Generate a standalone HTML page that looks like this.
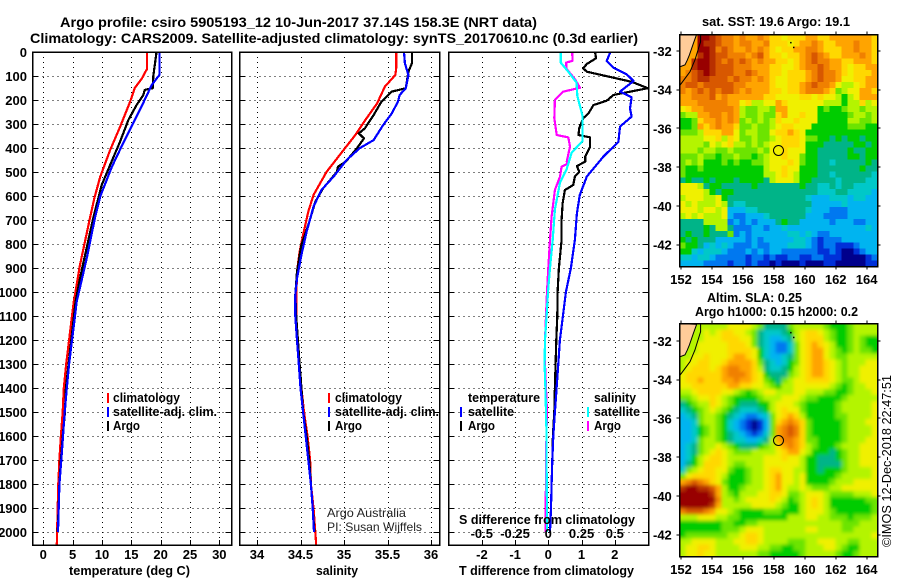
<!DOCTYPE html>
<html lang="en">
<head>
<meta charset="utf-8">
<title>Argo profile csiro 5905193_12</title>
<style>
html,body{margin:0;padding:0;background:#fff;}
svg{display:block;}
text{font-family:"Liberation Sans",sans-serif;font-weight:bold;font-size:13px;fill:#000;}
.thin{font-weight:normal;font-size:12px;fill:#222;}
.frame{fill:none;stroke:#000;stroke-width:1.5;shape-rendering:crispEdges;}
</style>
</head>
<body>
<svg id="chart" xmlns="http://www.w3.org/2000/svg" width="900" height="580" viewBox="0 0 900 580">
<rect x="0" y="0" width="900" height="580" fill="#fff"/>
<defs>
<clipPath id="p3clip"><rect x="448" y="52" width="200" height="493"/></clipPath>
<filter id="smooth" x="-5%" y="-5%" width="110%" height="110%"><feGaussianBlur stdDeviation="1.8"/></filter>
</defs>
<text x="60" y="27" font-size="14" style="font-size:14px" textLength="477">Argo profile: csiro 5905193_12 10-Jun-2017 37.14S 158.3E (NRT data)</text>
<text x="30" y="43" style="font-size:14px" textLength="608">Climatology: CARS2009. Satellite-adjusted climatology: synTS_20170610.nc (0.3d earlier)</text>
<g id="layer-panels"></g>
<g id="layer-maps"></g>

<text x="69" y="575" textLength="121">temperature (deg C)</text>
<text x="316" y="575" textLength="42">salinity</text>
<text x="459" y="575" textLength="175">T difference from climatology</text>
<text x="459" y="524" textLength="176">S difference from climatology</text>

<rect x="107" y="393" width="2" height="10" fill="#f00"/>
<text x="113" y="402" textLength="67">climatology</text>
<rect x="107" y="407" width="2" height="10" fill="#00f"/>
<text x="113" y="416" textLength="104">satellite-adj. clim.</text>
<rect x="107" y="421" width="2" height="10" fill="#000"/>
<text x="113" y="430" textLength="27">Argo</text>

<rect x="328" y="393" width="2" height="10" fill="#f00"/>
<text x="335" y="402" textLength="67">climatology</text>
<rect x="328" y="407" width="2" height="10" fill="#00f"/>
<text x="335" y="416" textLength="104">satellite-adj. clim.</text>
<rect x="328" y="421" width="2" height="10" fill="#000"/>
<text x="335" y="430" textLength="27">Argo</text>

<text class="thin" x="327" y="517" textLength="79">Argo Australia</text>
<text class="thin" x="327" y="531" textLength="95">PI: Susan Wijffels</text>

<text x="468" y="402" textLength="72">temperature</text>
<rect x="460" y="407" width="2" height="10" fill="#00f"/>
<text x="468" y="416" textLength="46">satellite</text>
<rect x="460" y="421" width="2" height="10" fill="#000"/>
<text x="468" y="430" textLength="27">Argo</text>
<text x="594" y="402" textLength="42">salinity</text>
<rect x="587" y="407" width="2" height="10" fill="#0ff"/>
<text x="594" y="416" textLength="46">satellite</text>
<rect x="587" y="421" width="2" height="10" fill="#f0f"/>
<text x="594" y="430" textLength="27">Argo</text>

<text x="702" y="26" textLength="148">sat. SST: 19.6 Argo: 19.1</text>
<text x="707" y="302" textLength="95">Altim. SLA: 0.25</text>
<text x="695" y="316" textLength="163">Argo h1000: 0.15 h2000: 0.2</text>
<text class="thin" transform="translate(891 547) rotate(-90)" x="0" y="0" textLength="172" style="font-size:12.5px;fill:#000">©IMOS 12-Dec-2018 22:47:51</text>
</svg>
<script>
// ---------- profile data (depth in m, temperature in deg C, salinity in psu) ----------
var depthTicks = [0,100,200,300,400,500,600,700,800,900,1000,1100,1200,1300,1400,1500,1600,1700,1800,1900,2000];
var tempTicks = [0,5,10,15,20,25,30];
var salTicks = [34,34.5,35,35.5,36];
var salTickLabels = ['34','34.5','35','35.5','36'];
var diffTTicks = [-2,-1,0,1,2];
var diffSTicks = [-0.5,-0.25,0,0.25,0.5];
var diffSTickLabels = ['-0.5','-0.25','0','0.25','0.5'];

var tempClimDepth = [0,70,110,150,207,311,408,520,610,699,887,1040,1100,1200,1300,1400,1500,1600,1700,1800,1900,2000,2054];
var tempClim = [17.7,17.7,16.8,15.6,14.8,13.1,11.4,9.7,8.7,7.9,6.25,5.2,4.9,4.4,3.9,3.5,3.3,3.0,2.75,2.55,2.45,2.35,2.3];
var tempSatDepth = [0,95,137,214,298,380,478,602,692,860,1040,1100,1200,1300,1400,1500,1600,1700,1800,1900,2000];
var tempSat = [19.8,19.8,18.5,17.0,15.3,13.6,11.7,9.7,8.8,7.4,5.7,5.4,4.9,4.4,4.0,3.65,3.35,3.07,2.75,2.62,2.5];
var tempArgoDepth = [0,20,100,151,158,179,221,283,374,470,554,692,942,1040,1400,1500,1600,1700,1800,1900,2000];
var tempArgo = [19.3,19.2,18.75,18.65,17.3,17.05,15.9,14.5,13.07,11.4,9.95,8.5,6.25,5.5,3.85,3.7,3.3,3.0,2.75,2.6,2.45];

var salClimDepth = [0,68,96,144,214,276,346,429,499,596,665,762,832,915,1040,1100,1200,1300,1400,1500,1600,1700,1800,1900,2000,2054];
var salClim = [35.6,35.6,35.59,35.47,35.38,35.26,35.13,34.95,34.8,34.65,34.59,34.53,34.49,34.46,34.45,34.45,34.47,34.49,34.51,34.54,34.58,34.61,34.62,34.65,34.67,34.68];
var salSatDepth = [0,47,96,151,179,207,256,304,367,401,450,519,575,644,749,846,943,1013,1100,1200,1300,1400,1500,1600,1700,1800,1900,2000];
var salSat = [35.69,35.7,35.74,35.71,35.64,35.62,35.55,35.45,35.34,35.18,35.03,34.88,34.74,34.65,34.57,34.51,34.46,34.44,34.44,34.46,34.48,34.5,34.53,34.56,34.59,34.62,34.64,34.655];
var salArgoDepth = [0,47,82,151,165,207,263,318,339,360,401,457,478,499,568,624,721,804,915,1013,1100,1200,1300,1400,1500,1600,1700,1800,1900,2000];
var salArgo = [35.78,35.78,35.74,35.71,35.55,35.43,35.34,35.24,35.17,35.23,35.15,35.02,34.93,34.92,34.76,34.67,34.59,34.51,34.46,34.44,34.45,34.47,34.49,34.51,34.53,34.57,34.6,34.62,34.64,34.66];

var diffTArgoDepth = [3,26,50,68,82,124,151,172,179,203,221,256,276,318,346,356,394,436,457,475,499,519,554,575,631,700,783,900,1000,1100,1200,1300,1400,1500,1600,1700,1800,1900,2000];
var diffTArgo = [1.41,1.44,1.16,1.05,1.16,2.51,3.0,2.21,1.96,1.76,1.36,1.21,1.05,0.93,0.91,1.26,1.26,1.11,1.11,0.86,0.93,0.8,0.75,0.5,0.43,0.4,0.4,0.32,0.28,0.27,0.24,0.22,0.2,0.18,0.14,0.12,0.1,0.08,0.05];
var diffTSatDepth = [3,37,65,93,121,165,189,235,269,311,374,436,519,596,672,783,900,1000,1100,1200,1300,1400,1500,1600,1700,1800,1900,2000];
var diffTSat = [1.86,1.76,1.96,2.36,2.57,2.16,2.51,2.46,2.51,2.16,2.11,1.66,1.16,0.95,0.86,0.8,0.68,0.53,0.44,0.35,0.3,0.25,0.2,0.15,0.12,0.1,0.08,0.05];
var diffSArgoDepth = [3,37,44,71,113,149,165,200,276,346,356,394,457,464,478,519,575,686,783,900,1000,1100,1200,1300,1400,1500,1600,1800,1900,2000];
var diffSArgo = [0.18,0.183,0.133,0.138,0.2,0.238,0.113,0.05,0.045,0.063,0.15,0.163,0.138,0.15,0.1,0.088,0.05,0.025,0.013,0,-0.01,-0.017,-0.025,-0.025,-0.017,-0.01,-0.014,-0.017,-0.021,-0.021];
var diffSSatDepth = [3,44,82,128,183,267,371,419,488,544,656,783,900,1000,1100,1200,1300,1400,1500,1600,1700,1800,1900,2000];
var diffSSat = [0.093,0.093,0.15,0.213,0.218,0.258,0.258,0.176,0.138,0.088,0.05,0.033,0.013,-0.002,-0.013,-0.025,-0.028,-0.022,-0.017,-0.013,-0.013,-0.012,-0.01,-0.01];

// ---------- map data ----------
var lonTicks = [152,154,156,158,160,162,164];
var latTicks = [-32,-34,-36,-38,-40,-42];
var profileLon = [158.3];
var profileLat = [-37.14];
var coastLon = [153.01,152.8,152.54,152.41,152.26,151.94];
var coastLat = [-31.14,-31.6,-32.2,-32.47,-32.72,-32.81];
var shelfLon = [153.27,153.27,152.9,152.58,151.94];
var shelfLat = [-31.14,-31.52,-32.47,-33.07,-33.76];
var islandLon = [159.05,159.24];
var islandLat = [-31.53,-31.78];
// colour levels, one hex digit per map cell, low (blue) to high (dark red)
var levelColors = ['#00008c','#0030d8','#0078f0','#00b4f0','#00c8c8','#00b488','#00cc00','#6ce400','#b4f400','#f0f000','#ffd800','#ffa400','#f08000','#d85800','#b83000','#980000'];
var sstRows = [
'bbbff edccb cbbcb aa9aa abbaa bbbbb bba',
'bbbfe edccb ccbbc aaa9a bbcba abbbc bba',
'bbbff ecdcb bcbcb a9aab bccba aabbc bba',
'bbbef eddcc cbcdb aa9aa bcdcb aabbb cba',
'bbeff edcdc dcbcb baa9a bcdcc bbaab bba',
'bbeff edddc ccbbb aa99a bccdc bba9a abb',
'bcdef edddc cdcbb aa9aa abcdc cba9a aab',
'ccdee dddcd ccbcb a99aa abcdc cb99a abb',
'cddcd ddddc cbbbb a99aa bcdcc b9889 abb',
'cbcdc dcddc bcbbb aa9aa bcccb a7899 bba',
'bbccc dbcbb bbbba a9999 aa9a9 98689 bbb',
'bbbcc cccbb 9a889 9ba99 99998 88688 a89',
'9abbc ccccb 87788 7bb99 99967 66788 788',
'788bb ccbcb 87787 7ab99 a9966 66678 878',
'667ab bcbcb 78787 8a99a 99966 66688 778',
'667ba bcbba 77877 89aa9 99666 66677 766',
'7778a aabb9 78877 9aaba 96666 66666 666',
'88889 9a8a9 77877 89aaa 97766 56566 566',
'88887 989a8 87878 99aaa 96665 55556 656',
'88878 87787 77787 99a99 96655 55565 566',
'77787 76778 77678 99a99 76655 55566 566',
'78786 66767 66778 999a9 76655 45555 565',
'76676 66666 66668 99a99 66655 55555 655',
'76666 66666 66668 89a98 66655 45555 554',
'56556 56665 66665 89998 66555 54555 544',
'99985 66555 55655 55555 65544 54554 444',
'99998 65665 55555 55555 55544 45544 443',
'89998 89655 55555 55555 54333 44434 433',
'98988 89854 45555 55555 55333 33433 333',
'99989 98933 34455 55555 54333 22233 333',
'89898 88932 23334 55555 53332 22233 333',
'55558 88823 23233 35655 33333 23332 233',
'55556 58852 22332 33433 33333 33333 343',
'56556 55572 32333 33344 34322 33333 333',
'65655 53333 32323 33334 43212 22333 333',
'76653 43432 22322 33344 43212 21112 333',
'66434 44322 23232 33222 22211 21001 233',
'44344 32222 21221 21122 11221 11000 012',
'33332 22212 21211 01000 10001 10000 011'
];
var slaRows = [
'88888 88899 99875 55578 88887 66678 888',
'88889 89aa9 98754 44568 9aa98 76678 888',
'88889 99aaa 99754 33458 9aaa8 76678 766',
'88899 999aa a9754 32247 9aba9 86678 766',
'88899 999aa aa964 32247 9abb9 87678 776',
'8899a 999ab ba964 33457 9abb9 87788 888',
'899aa 99abb bba75 43467 9abba 98788 899',
'89aaa 9abcc bba85 44568 9abba 98788 999',
'9aaaa aabcc cba96 55578 9abba 98788 999',
'9aaba aabbc bba97 65789 9aaaa 98778 999',
'99aaa aaabb aa998 76889 99999 87678 899',
'889aa aa998 76789 98889 98887 76678 889',
'77899 a9876 66678 88999 87766 66788 888',
'56788 a9876 55566 89998 76666 67888 889',
'45678 98765 44456 89a99 76666 67888 889',
'34578 87654 32234 79aba 86666 67788 889',
'33478 87643 21013 7abcb a7666 66788 899',
'33467 87643 21013 7bcdc a7666 66788 889',
'33467 87654 32124 7bcdc a7666 66788 889',
'33478 87654 43345 8bccb a7766 66788 899',
'34578 89876 55567 8abcb a8766 67888 999',
'34578 9a987 77888 89abb 98666 56788 999',
'34689 aa988 88889 99a99 86655 56788 999',
'3568a aa987 78889 99999 86655 55788 999',
'4789a a9976 67889 aa998 86656 66788 889',
'79aaa a9866 67889 ab998 96666 67888 889',
'bcdcb a9766 67889 ab998 96666 78889 999',
'effee db866 78889 ab988 98777 88999 999',
'fffff eb876 88899 aa977 89998 77778 889',
'fffff fc887 89999 a9867 89a98 66666 677',
'fffff eb888 88999 98766 89a98 66666 667',
'cdddc b9987 66667 77666 89998 76666 667',
'88899 98877 66666 66688 89988 77767 778',
'66666 66776 67788 88888 88888 88777 888',
'66666 66777 89998 88888 89988 88778 888',
'67777 77788 9aa98 88888 88888 88888 889',
'88999 98889 9aa98 88877 78899 98877 888',
'899aa 98888 99988 77667 78889 98766 888',
'899a9 98888 88877 66666 78888 87667 888'
];

// ---------- axis functions ----------
var panelTop = 52, panelBottom = 545;
function depthY(d){ return panelTop + d * 0.24; }
function tempX(t){ return 43.3 + t * 5.867; }
function salX(s){ return 257 + (s - 34) * 87; }
function diffTX(t){ return 548.3 + t * 33.2; }
function diffSX(s){ return 548.3 + s * 133; }
function lonX(lon){ return 681 + (lon - 152) * 15.47; }
function latYTop(lat){ return 51 + (-32 - lat) * 19.35; }
function latYBottom(lat){ return 341 + (-32 - lat) * 19.35; }

var NS = 'http://www.w3.org/2000/svg';
function mk(tag, parent, attrs){
  var n = document.createElementNS(NS, tag);
  for (var k in attrs) n.setAttribute(k, attrs[k]);
  parent.appendChild(n);
  return n;
}
var panels = document.getElementById('layer-panels');
var maps = document.getElementById('layer-maps');

Array.prototype.forEach.call(document.querySelectorAll('text[textLength]'), function(t){
  t.setAttribute('lengthAdjust', 'spacingAndGlyphs');
});

function drawPanel(name, left, right, xfn, ticks){
  var g = mk('g', panels, {});
  
  
  ticks.forEach(function(t){
    var x = Math.round(xfn(t)) + 0.5;
    var line = mk('line', g, {x1:x, x2:x, y1:panelTop, y2:panelBottom, stroke:'#000', 'stroke-width':1, 'stroke-dasharray':'1 4', 'shape-rendering':'crispEdges'});
    
    
    var tick = mk('line', g, {x1:x, x2:x, y1:panelBottom-5, y2:panelBottom, stroke:'#000', 'stroke-width':1, 'shape-rendering':'crispEdges'});
    
    
  });
  depthTicks.forEach(function(d){
    var y = Math.round(depthY(d)) + 0.5;
    var line = mk('line', g, {x1:left, x2:right, y1:y, y2:y, stroke:'#000', 'stroke-width':1, 'stroke-dasharray':'1 4', 'shape-rendering':'crispEdges'});
    
    
    var tl = mk('line', g, {x1:left, x2:left+6, y1:y, y2:y, stroke:'#000', 'stroke-width':1, 'shape-rendering':'crispEdges'});
    
    
    var tr = mk('line', g, {x1:right-6, x2:right, y1:y, y2:y, stroke:'#000', 'stroke-width':1, 'shape-rendering':'crispEdges'});
    
    
  });
  return g;
}
function drawFrame(g, name, left, right){
  var f = mk('rect', g, {x:left, y:panelTop, width:right-left, height:panelBottom-panelTop, 'class':'frame'});
  
  
}
function drawLine(g, name, xs, depths, xfn, color){
  var pts = xs.map(function(v, i){ return xfn(v).toFixed(1) + ',' + depthY(depths[i]).toFixed(1); }).join(' ');
  var p = mk('polyline', g, {points:pts, fill:'none', stroke:color, 'stroke-width':2.2, 'stroke-linejoin':'round', 'shape-rendering':'crispEdges'});
  
  
  return p;
}
function label(parent, name, x, y, str, anchor){
  var t = mk('text', parent, {x:x, y:y, 'text-anchor':anchor});
  t.textContent = str;
  
  
  return t;
}

// temperature panel
var g1 = drawPanel('temperature', 32.5, 231.5, tempX, tempTicks);
drawLine(g1, 'temperature-climatology-line', tempClim, tempClimDepth, tempX, '#f00');
drawLine(g1, 'temperature-argo-line', tempArgo, tempArgoDepth, tempX, '#000');
drawLine(g1, 'temperature-satellite-line', tempSat, tempSatDepth, tempX, '#00f');
drawFrame(g1, 'temperature', 32.5, 231.5);
tempTicks.forEach(function(t){ label(g1, 'temperature-tick-label', tempX(t), 559, String(t), 'middle'); });
depthTicks.forEach(function(d){ label(g1, 'depth-tick-label', 27, depthY(d) + 5, String(d), 'end'); });

// salinity panel
var g2 = drawPanel('salinity', 239.5, 439.5, salX, salTicks);
drawLine(g2, 'salinity-climatology-line', salClim, salClimDepth, salX, '#f00');
drawLine(g2, 'salinity-argo-line', salArgo, salArgoDepth, salX, '#000');
drawLine(g2, 'salinity-satellite-line', salSat, salSatDepth, salX, '#00f');
drawFrame(g2, 'salinity', 239.5, 439.5);
salTicks.forEach(function(t, i){ label(g2, 'salinity-tick-label', salX(t), 559, salTickLabels[i], 'middle'); });

// difference panel
var g3 = drawPanel('difference', 448.5, 648.5, diffTX, diffTTicks);
var clipped = mk('g', g3, {'clip-path':'url(#p3clip)'});


drawLine(clipped, 'diff-t-argo-line', diffTArgo, diffTArgoDepth, diffTX, '#000');
drawLine(clipped, 'diff-t-satellite-line', diffTSat, diffTSatDepth, diffTX, '#00f');
drawLine(clipped, 'diff-s-argo-line', diffSArgo, diffSArgoDepth, diffSX, '#f0f');
drawLine(clipped, 'diff-s-satellite-line', diffSSat, diffSSatDepth, diffSX, '#0ff');
drawFrame(g3, 'difference', 448.5, 648.5);
diffTTicks.forEach(function(t){ label(g3, 'diff-t-tick-label', diffTX(t), 559, String(t), 'middle'); });
diffSTicks.forEach(function(s, i){ label(g3, 'diff-s-tick-label', diffSX(s), 538, diffSTickLabels[i], 'middle'); });

// maps
function drawMap(name, rows, top, bottom, latY, labelY, smooth){
  var left = 679.5, right = 877.5;
  var g = mk('g', maps, {});
  
  
  var clipId = name + '-clip';
  var defs = mk('clipPath', g, {id:clipId});
  mk('rect', defs, {x:left, y:top, width:right-left, height:bottom-top});
  var clipGroup = mk('g', g, {'clip-path':'url(#' + clipId + ')'});
  
  
  var cells = mk('g', clipGroup, smooth ? {filter:'url(#smooth)'} : {});
  
  
  var ch = (bottom - top) / rows.length;
  var bleed = 12;
  rows.forEach(function(raw, r){
    var row = raw.replace(/\s/g, '');
    var cw = (right - left) / row.length;
    for (var c = 0; c < row.length; c++){
      var x0 = left + c*cw, x1 = x0 + cw + 0.4;
      var y0 = top + r*ch, y1 = y0 + ch + 0.4;
      if (c === 0) x0 -= bleed;
      if (c === row.length - 1) x1 += bleed;
      if (r === 0) y0 -= bleed;
      if (r === rows.length - 1) y1 += bleed;
      var cell = mk('rect', cells, {x:x0.toFixed(2), y:y0.toFixed(2), width:(x1-x0).toFixed(2), height:(y1-y0).toFixed(2), fill:levelColors[parseInt(row.charAt(c), 16)], 'shape-rendering':'crispEdges'});
      
      
    }
  });
  var overlay = mk('g', clipGroup, {});
  
  
  var coastPts = coastLon.map(function(l, i){ return lonX(l).toFixed(1) + ',' + latY(coastLat[i]).toFixed(1); });
  var land = mk('polygon', overlay, {points:coastPts.join(' ') + ' ' + left + ',' + (latY(-32.81)).toFixed(1) + ' ' + left + ',' + top, fill:'#ffcc99', stroke:'#000', 'stroke-width':1});
  
  
  var shelf = mk('polyline', overlay, {points:shelfLon.map(function(l, i){ return lonX(l).toFixed(1) + ',' + latY(shelfLat[i]).toFixed(1); }).join(' '), fill:'none', stroke:'#000', 'stroke-width':1});
  
  
  islandLon.forEach(function(l, i){
    var dot = mk('rect', overlay, {x:lonX(l).toFixed(1), y:latY(islandLat[i]).toFixed(1), width:1.5, height:1.5, fill:'#000'});
    
    
  });
  var circle = mk('circle', g, {cx:lonX(profileLon[0]).toFixed(1), cy:latY(profileLat[0]).toFixed(1), r:5, fill:'none', stroke:'#000', 'stroke-width':1});
  
  
  var frame = mk('rect', g, {x:left, y:top, width:right-left, height:bottom-top, 'class':'frame'});
  
  
  lonTicks.forEach(function(l){
    var x = Math.round(lonX(l));
    var t1 = mk('line', g, {x1:x, x2:x, y1:top-3, y2:top, stroke:'#000', 'stroke-width':1, 'shape-rendering':'crispEdges'});
    
    
    var t2 = mk('line', g, {x1:x, x2:x, y1:bottom, y2:bottom+3, stroke:'#000', 'stroke-width':1, 'shape-rendering':'crispEdges'});
    
    
    label(g, name + '-lon-label', lonX(l), labelY, String(l), 'middle');
  });
  latTicks.forEach(function(l){
    var y = Math.round(latY(l));
    var t1 = mk('line', g, {x1:left-3, x2:left, y1:y, y2:y, stroke:'#000', 'stroke-width':1, 'shape-rendering':'crispEdges'});
    
    
    var t2 = mk('line', g, {x1:right, x2:right+3, y1:y, y2:y, stroke:'#000', 'stroke-width':1, 'shape-rendering':'crispEdges'});
    
    
    label(g, name + '-lat-label', 653, latY(l) + 5, String(l), 'start');
  });
}
drawMap('sst', sstRows, 34.5, 266.5, latYTop, 284, false);
drawMap('sla', slaRows, 323.5, 556.5, latYBottom, 574, true);
</script>
</body>
</html>
